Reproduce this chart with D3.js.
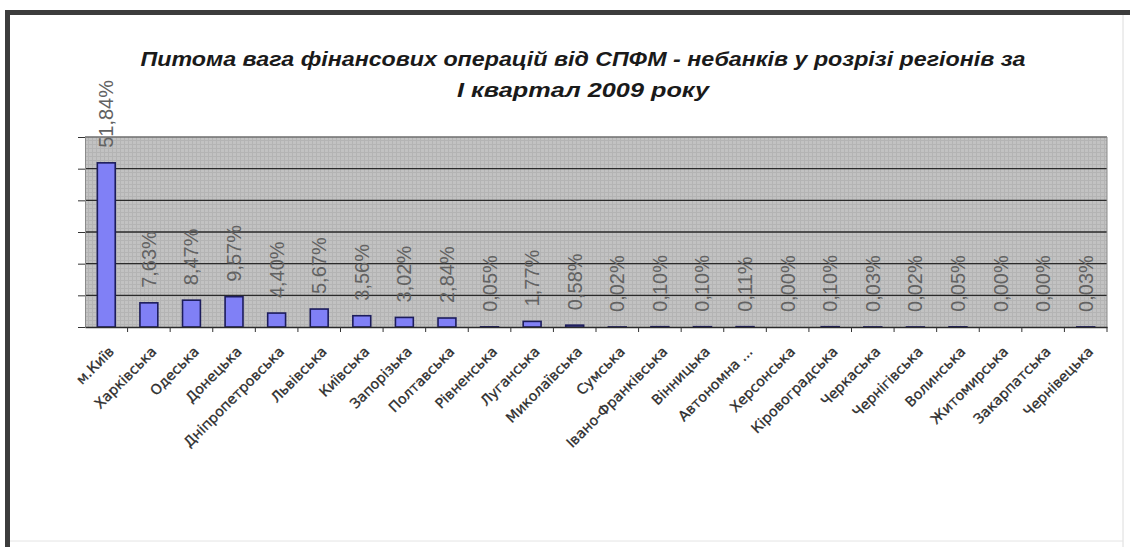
<!DOCTYPE html>
<html><head><meta charset="utf-8">
<script src="https://cdn.jsdelivr.net/npm/d3@7"></script>
<style>body{margin:0;background:#fff} svg{display:block}</style>
</head><body><svg id="c" width="1130" height="547"></svg>
<script>
const categories = ["м.Київ","Харківська","Одеська","Донецька","Дніпропетровська","Львівська","Київська","Запорізька","Полтавська","Рівненська","Луганська","Миколаївська","Сумська","Івано-Франківська","Вінницька","Автономна ...","Херсонська","Кіровоградська","Черкаська","Чернігівська","Волинська","Житомирська","Закарпатська","Чернівецька"];
const values = [51.84,7.63,8.47,9.57,4.40,5.67,3.56,3.02,2.84,0.05,1.77,0.58,0.02,0.10,0.10,0.11,0.00,0.10,0.03,0.02,0.05,0.00,0.00,0.03];
const yTicks = [0,10,20,30,40,50,60];
const titleLines = ["Питома вага фінансових операцій від СПФМ - небанків у розрізі регіонів за","І квартал 2009 року"];

const W = 1130, H = 547;
const m = {left:85, right:1107, top:137, bottom:327};
const svg = d3.select("#c");

svg.append("rect").attr("width",W).attr("height",H).attr("fill","#fff");
// window frame
svg.append("rect").attr("x",5).attr("y",10).attr("width",W-5).attr("height",5).attr("fill","#3c3c3c");
svg.append("rect").attr("x",5).attr("y",10).attr("width",5).attr("height",H-10).attr("fill","#3c3c3c");
svg.append("line").attr("x1",1123).attr("x2",1123).attr("y1",15).attr("y2",H).attr("stroke","#dcdcdc");
svg.append("line").attr("x1",10).attr("x2",1123).attr("y1",541).attr("y2",541).attr("stroke","#e4e4e4");

const x = d3.scaleBand().domain(categories).range([m.left, m.right]).padding(0);
const y = d3.scaleLinear().domain([0,60]).range([m.bottom, m.top]);
const bw = x.bandwidth();

// plot background with fine texture
const defs = svg.append("defs");
const pat = defs.append("pattern").attr("id","tex").attr("width",4).attr("height",4).attr("patternUnits","userSpaceOnUse");
pat.append("rect").attr("width",4).attr("height",4).attr("fill","#c2c2c2");
pat.append("rect").attr("width",1).attr("height",4).attr("fill","#b4b4b4");
pat.append("rect").attr("width",4).attr("height",1).attr("fill","#b4b4b4");
svg.append("rect").attr("x",m.left).attr("y",m.top).attr("width",m.right-m.left).attr("height",m.bottom-m.top).attr("fill","url(#tex)");

// gridlines
svg.append("g").selectAll("line").data(yTicks.filter(t=>t>0)).join("line")
  .attr("x1",m.left).attr("x2",m.right).attr("y1",d=>y(d)).attr("y2",d=>y(d))
  .attr("stroke",d=>d===60?"#6e6e6e":"#2b2b2b").attr("stroke-width",1.4);
svg.append("line").attr("x1",m.right).attr("x2",m.right).attr("y1",m.top).attr("y2",m.bottom).attr("stroke","#8a8a8a");

// y axis (ticks only)
const ya = svg.append("g").attr("transform",`translate(${m.left},0)`)
  .call(d3.axisLeft(y).tickValues(yTicks).tickFormat("").tickSize(7).tickSizeOuter(0));
ya.select(".domain").attr("stroke","#8a8a8a");
ya.selectAll(".tick line").attr("stroke","#333");

// bars
svg.append("g").selectAll("rect").data(values).join("rect")
  .attr("x",(d,i)=>x(categories[i]) + bw*0.29)
  .attr("width",bw*0.42)
  .attr("y",d=>y(d))
  .attr("height",d=>Math.max(0,y(0)-y(d)))
  .attr("fill","#8080f6").attr("stroke","#1c1c5c").attr("stroke-width",1.6);

// data labels
const fmt = v => d3.format(".2f")(v).replace(".",",") + "%";
svg.append("g").selectAll("text").data(values).join("text")
  .attr("transform",(d,i)=>`translate(${x(categories[i])+bw/2+7},${y(d)-15}) rotate(-90)`)
  .attr("text-anchor","start")
  .attr("font-family","Liberation Sans, Arial, sans-serif")
  .attr("font-size",20).attr("fill","#626262")
  .text(fmt);

// x axis
const xa = svg.append("g").attr("transform",`translate(0,${m.bottom})`)
  .call(d3.axisBottom(x).tickSize(0).tickSizeOuter(0));
xa.select(".domain").attr("stroke","#2b2b2b").attr("stroke-width",1.4);
xa.selectAll(".tick text")
  .attr("x",0).attr("y",0).attr("dy","0.35em")
  .attr("transform","translate(5,22) rotate(-45)")
  .attr("text-anchor","end")
  .attr("font-family","DejaVu Sans, Verdana, sans-serif")
  .attr("font-size",14).attr("fill","#2e2e2e")
  .attr("stroke","#2e2e2e").attr("stroke-width",0.3);
svg.append("g").selectAll("line").data(categories.slice(1).map(c=>x(c)).concat([m.right])).join("line")
  .attr("x1",d=>d).attr("x2",d=>d).attr("y1",m.bottom).attr("y2",m.bottom+5)
  .attr("stroke","#333");

// title
const tl = [{t:titleLines[0], y:66, w:885},{t:titleLines[1], y:97, w:252}];
svg.append("g").selectAll("text").data(tl).join("text")
  .attr("x",583).attr("y",d=>d.y).attr("text-anchor","middle")
  .attr("font-family","Liberation Sans, Arial, sans-serif")
  .attr("font-size",20).attr("font-weight","bold").attr("font-style","italic")
  .attr("fill","#1a1a1a")
  .attr("textLength",d=>d.w).attr("lengthAdjust","spacingAndGlyphs")
  .text(d=>d.t);
</script></body></html>
